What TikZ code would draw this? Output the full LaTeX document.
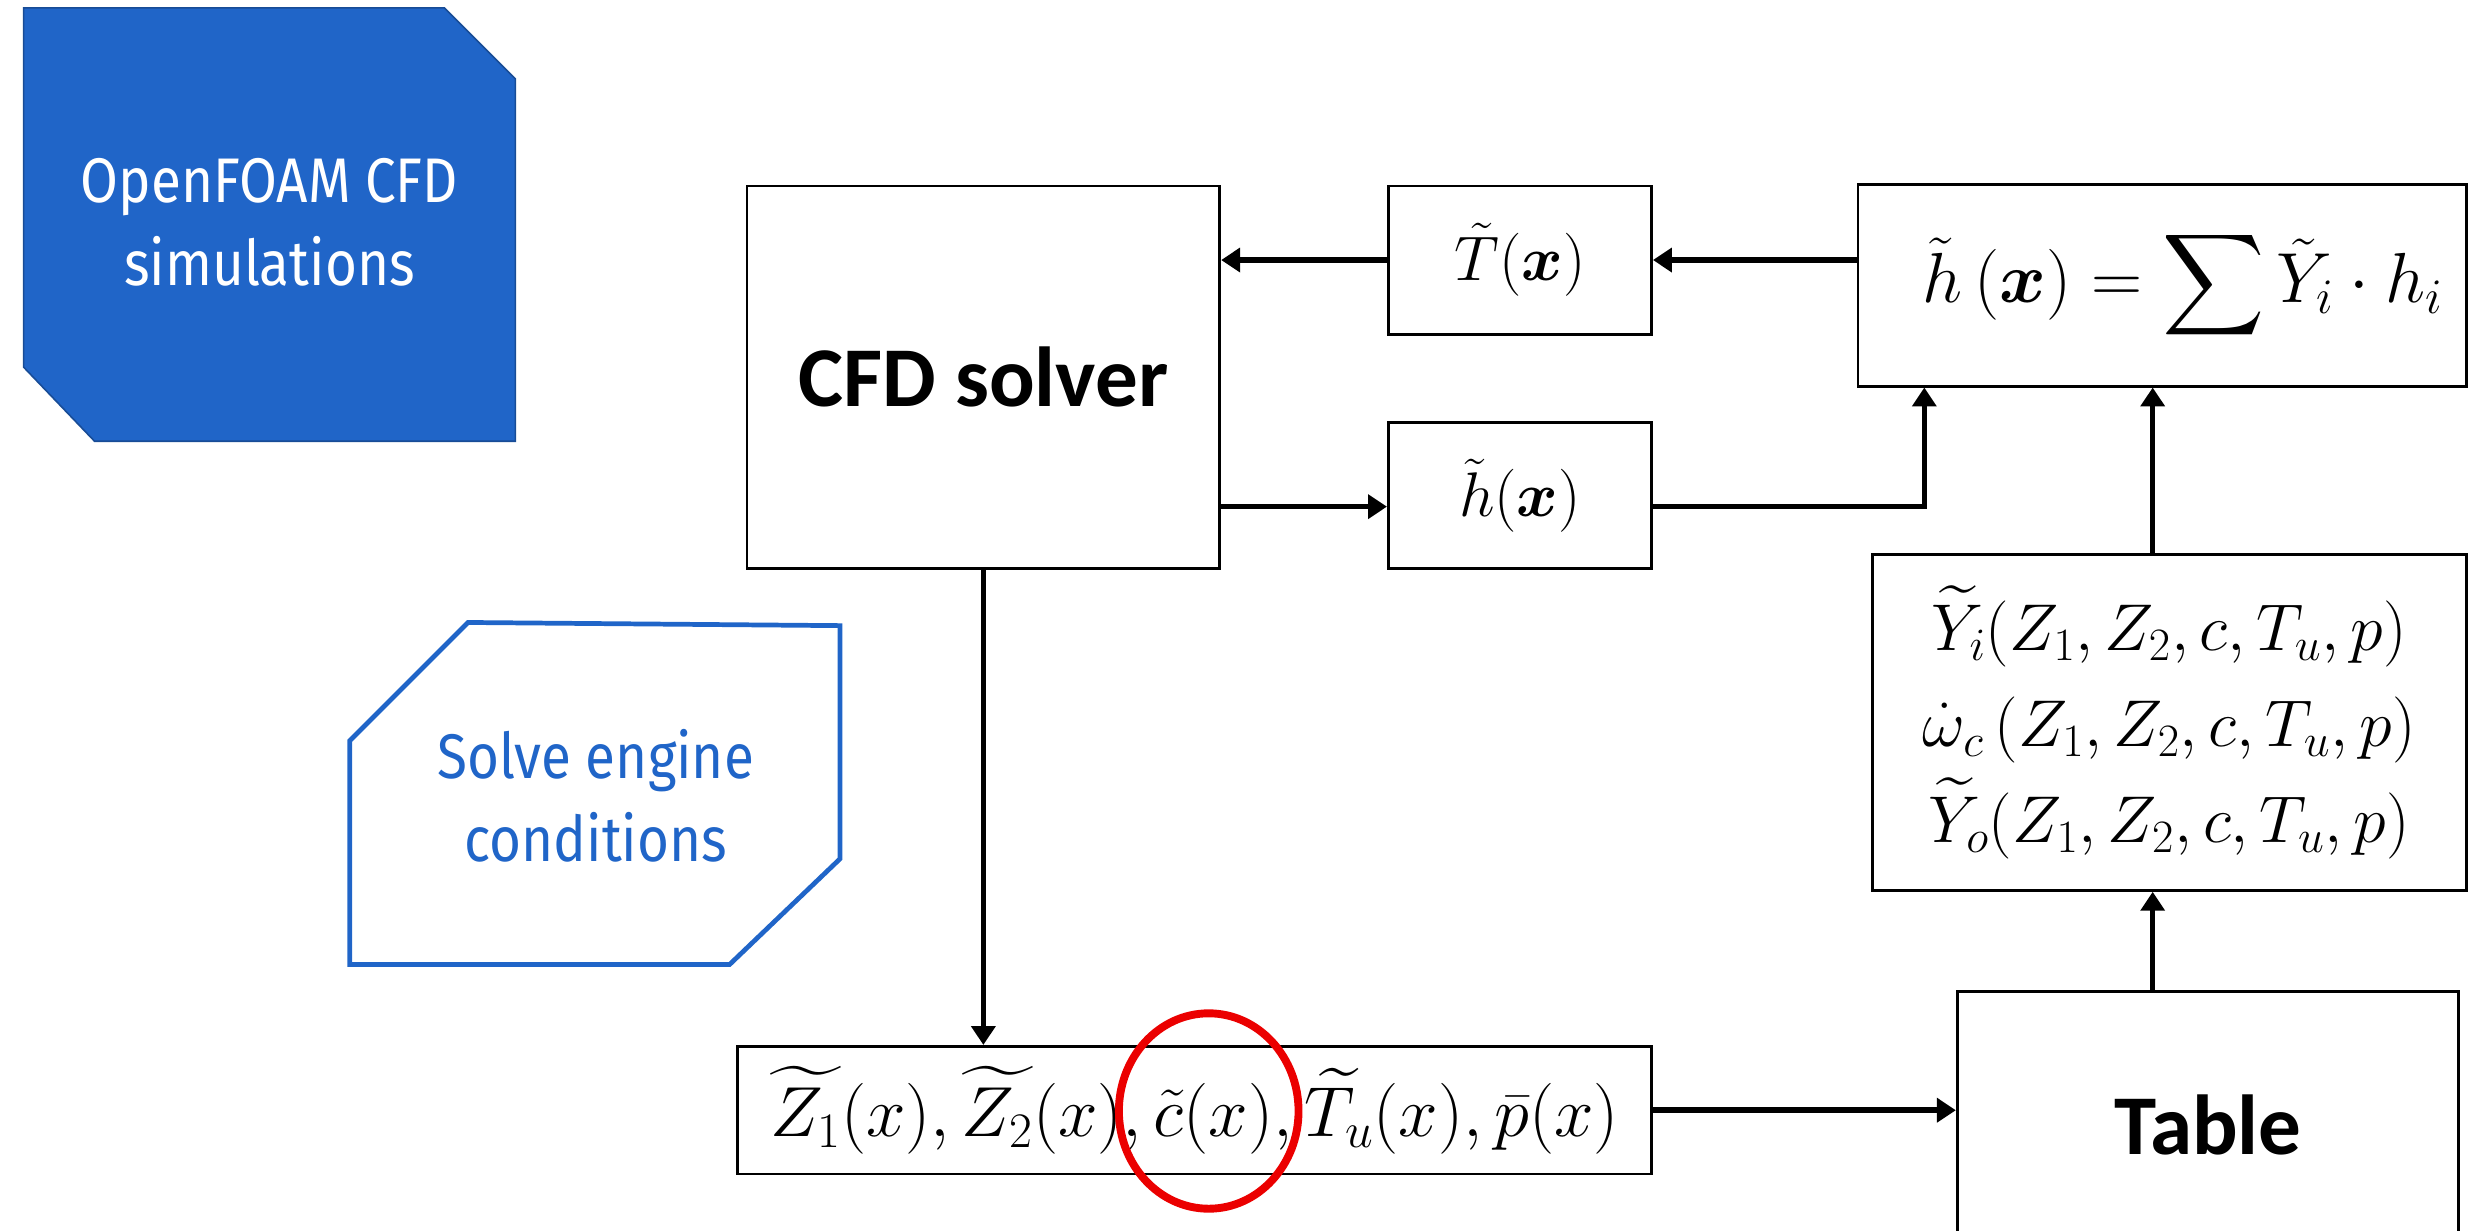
\RequirePackage{fix-cm}
\documentclass[tikz,border=0pt]{standalone}
\usepackage{amsmath,amssymb}
\usepackage{fontspec}
\newfontfamily\foamfont{Fira Sans}[FakeStretch=0.87]
\newfontfamily\labelfont{Carlito}
\usetikzlibrary{positioning,arrows.meta,shapes.geometric,calc}
\definecolor{foamblue}{RGB}{32,101,200}
\definecolor{ringred}{RGB}{235,0,0}
\tikzset{
  box/.style={draw, line width=1.8pt, inner sep=0pt, align=center,
              font=\fontsize{40}{61}\selectfont},
  boldbox/.style={box, font=\labelfont\bfseries\fontsize{54}{60}\selectfont},
  foamtext/.style={align=center, font=\foamfont\fontsize{40}{53}\selectfont},
  arrow/.style={-{Triangle[length=12pt,width=15pt]}, line width=3.5pt},
}

\begin{document}
\begin{tikzpicture}[x=1pt, y=-1pt]
  \clip (0,0) rectangle (1568,781);
  % left-hand labels
  \fill[foamblue, draw=foamblue!75!black, line width=1pt]
    (15,5) -- (282,5) -- (327,50) -- (327,280) -- (60,280) -- (15,233) -- cycle;
  \node[foamtext, text=white] (foam) at (171,141) {OpenFOAM CFD\\simulations};
  \draw[foamblue, line width=3pt]
    (222,470) -- (297,395) -- (533,397) -- (533,545) -- (463,612) -- (222,612) -- cycle;
  \node[foamtext, text=foamblue] (engine) at (378,505) {Solve engine\\conditions};

  % solver loop
  \node[boldbox, minimum width=300pt, minimum height=243pt] (cfd) at (624,239.5) {CFD solver};
  \node[box, minimum width=167pt, minimum height=94pt] (tbox) at (964.5,165) {$\tilde{T}(\boldsymbol{x})$};
  \node[box, minimum width=167pt, minimum height=93pt] (hbox) at (964.5,314.5) {$\tilde{h}(\boldsymbol{x})$};
  \node[box, minimum width=386pt, minimum height=128pt, font=\fontsize{45}{50}\selectfont]
       (hsum) at (1372,181) {\hspace*{26pt}$\tilde{h}\,(\boldsymbol{x}) = \displaystyle\sum \tilde{Y}_i \cdot h_i$};
  \node[box, minimum width=377pt, minimum height=213pt, font=\fontsize{42}{61}\selectfont]
       (ybox) at (1376.5,458.5)
       {$\widetilde{Y}_i(Z_1, Z_2, c, T_u, p)$\\
        $\dot{\omega}_c\,(Z_1, Z_2, c, T_u, p)$\\
        $\widetilde{Y}_o(Z_1, Z_2, c, T_u, p)$};
  \node[boldbox, minimum width=318pt, minimum height=170pt, anchor=north] (tbl) at (1401,628) {Table};
  \node[box, minimum width=580pt, minimum height=81pt, font=\fontsize{45}{50}\selectfont]
       (zbox) at (758,704.5)
       {$\widetilde{Z_1}(x), \widetilde{Z_2}(x), \tilde{c}(x), \widetilde{T_u}(x), \bar{p}(x)$};
  \node[ellipse, draw=ringred, line width=5pt, minimum width=114pt, minimum height=124pt]
       (ring) at (767,705) {};

  \coordinate (col) at (1366,0);
  \draw[arrow] (tbox.west) -- (tbox.west -| cfd.east);
  \draw[arrow] (tbox.east -| hsum.west) -- (tbox.east);
  \draw[arrow] ([yshift=-7pt]hbox.west -| cfd.east) -- ([yshift=-7pt]hbox.west);
  \draw[arrow] ([yshift=-7pt]hbox.east) -| ([xshift=43pt]hsum.south west);
  \draw[arrow] (cfd.south) -- (cfd.south |- zbox.north);
  \draw[arrow] (zbox.east) -- (zbox.east -| tbl.west);
  \draw[arrow] (tbl.north -| col) -- (ybox.south -| col);
  \draw[arrow] (ybox.north -| col) -- (hsum.south -| col);
\end{tikzpicture}
\end{document}
